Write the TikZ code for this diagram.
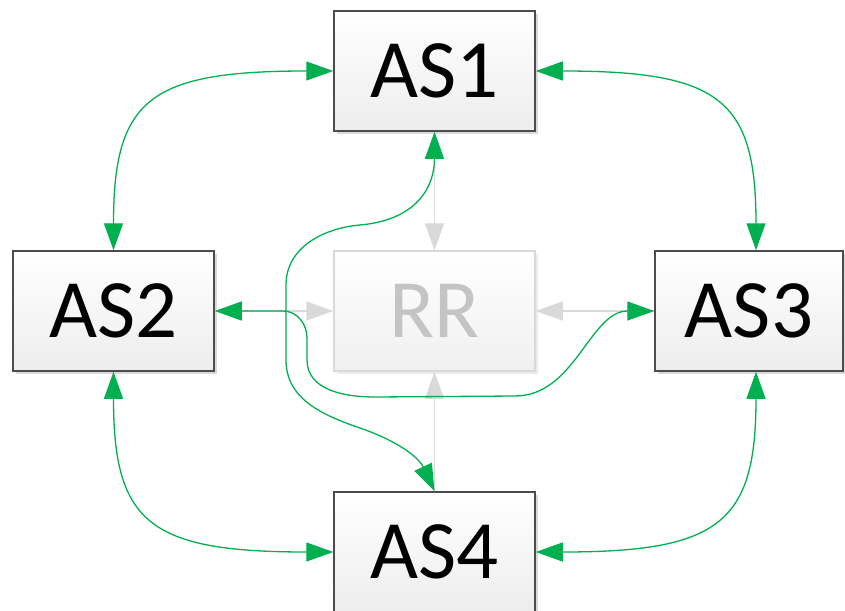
\documentclass[tikz,border=0pt]{standalone}
\usepackage{fontspec}
\setmainfont{Carlito}
\usetikzlibrary{arrows.meta,shadows}
\definecolor{okgreen}{HTML}{00B050}
\definecolor{ltgray}{HTML}{D9D9D9}
\definecolor{rrtext}{HTML}{C4C4C4}
\begin{document}
\begin{tikzpicture}[x=1pt,y=-1pt,
  boxbase/.style={line width=1.5pt, minimum width=201pt, minimum height=120pt,
    inner sep=0pt, font=\fontsize{83}{90}\selectfont},
  asbox/.style={boxbase, draw=black!70, top color=white, bottom color=black!7,
    drop shadow={shadow xshift=3pt,shadow yshift=-3pt,fill=black!15,opacity=1}},
  rrbox/.style={boxbase, draw=ltgray, text=rrtext, top color=white, bottom color=black!6,
    drop shadow={shadow xshift=3pt,shadow yshift=-3pt,fill=black!8,opacity=1}},
  grn/.style={draw=okgreen, line width=1.3pt,
    {Triangle[length=27pt,width=19pt]}-{Triangle[length=27pt,width=19pt]}},
  gry/.style={draw=ltgray, line width=1.3pt, -{Triangle[length=27pt,width=19pt]}}]
\useasboundingbox (0,0) rectangle (845,610);
\clip (0,0) rectangle (845,610);

\node[asbox] (AS1) at (434.5,71) {AS1};
\node[asbox] (AS2) at (113.5,311) {AS2};
\node[rrbox] (RR) at (434.5,311) {RR};
\node[asbox, minimum width=188pt] (AS3) at (749,311) {AS3};
\node[asbox] (AS4) at (434.5,552) {AS4};

% gray links to RR
\draw[gry] (AS1.south) -- (RR.north);
\draw[gry] (AS2.east) -- (RR.west);
\draw[gry] (AS3.west) -- (RR.east);
\draw[gry] (AS4.north) -- (RR.south);

% green outer curves
\draw[grn] (AS1.west) .. controls +(-184,0) and +(0,-151) .. (AS2.north);
\draw[grn] (AS1.east) .. controls +(184,0) and +(0,-151) .. ([xshift=7pt]AS3.north);
\draw[grn] (AS2.south) .. controls +(0,151) and +(-184,0) .. (AS4.west);
\draw[grn] ([xshift=7pt]AS3.south) .. controls +(0,151) and +(184,0) .. (AS4.east);

% green inner curves
\draw[grn] (AS1.south) to[out=-90,in=5,looseness=1.2] (360,225)
  to[out=185,in=90] (286,285) -- (286,360)
  to[out=-90,in=161] (360,428) to[out=-19,in=115] (AS4.north);
\draw[grn] (AS2.east) -- (283,311) to[out=0,in=90] (307,338) -- (307,360)
  to[out=-90,in=180] (375,397) -- (515,396)
  .. controls (575,396) and (590,311) .. (AS3.west);
\end{tikzpicture}
\end{document}
